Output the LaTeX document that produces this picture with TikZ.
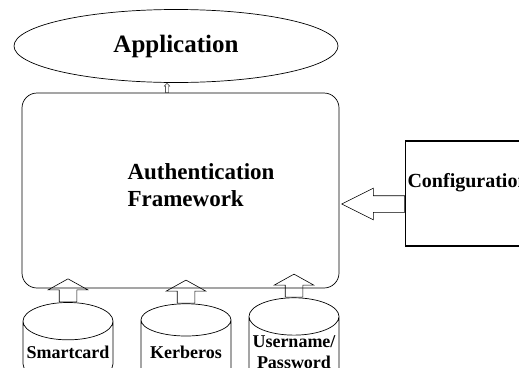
\documentclass[tikz,border=0pt]{standalone}
\usepackage{fontspec}
\setmainfont{Liberation Serif}
\usepackage{tikz}
\usetikzlibrary{positioning,shapes.geometric,shapes.arrows}

\begin{document}
\begin{tikzpicture}[
    x=1pt, y=-1pt,
    box/.style={draw, line width=0.7pt, font=\bfseries},
    store/.style={draw, cylinder, shape border rotate=90, aspect=0.45, line width=0.7pt,
        minimum width=90pt, minimum height=80pt, inner sep=0pt, align=center,
        font=\fontsize{18}{21}\selectfont\bfseries},
    blockarrow/.style={draw, single arrow, line width=0.6pt},
    uparrow/.style={blockarrow, shape border rotate=90, minimum height=23pt, inner sep=8.5pt,
        single arrow head extend=11pt, single arrow tip angle=122, anchor=tail}
]
    \useasboundingbox (0,0) rectangle (519,367);
    \clip (0,0) rectangle (519,367);

    % Application
    \node[box, ellipse, minimum width=324pt, minimum height=73pt,
          font=\fontsize{25}{28}\selectfont\bfseries] (app) at (176,46) {Application};

    % Framework
    \node[box, rounded corners=15pt, minimum width=317pt, minimum height=195pt] (main) at (180.5,190.5) {};
    \node[font=\fontsize{23}{27}\selectfont\bfseries, align=left] (mainlabel) at (201,185) {Authentication\\ Framework};

    % Configuration
    \node[box, line width=1.1pt, anchor=west, minimum height=105pt, inner xsep=2pt,
          text depth=26pt, font=\fontsize{20}{24}\selectfont\bfseries] (config) at (405,193.5) {Configuration};

    % Login modules
    \node[store] (smart) at (68,352) {Smartcard};
    \node[store] (kerb) at (186,352) {Kerberos};
    \node[store] (userpw) at (294,352) {Username/\\Password};

    % Arrows
    \node[blockarrow, shape border rotate=180, minimum height=63pt, inner sep=8pt,
          single arrow head extend=7.5pt, single arrow tip angle=53, anchor=tail] (cfgarrow) at (config.west |- 0,204) {};
    \node[uparrow] (smartarrow) at (smart.north) {};
    \node[uparrow] (kerbarrow) at (kerb.north) {};
    \node[uparrow] (userpwarrow) at (userpw.north) {};
    \node[blockarrow, shape border rotate=90, minimum height=9pt, inner sep=1.5pt,
          single arrow head extend=1pt, anchor=tail, line width=0.4pt] (apparrow) at (main.north -| 167,0) {};
\end{tikzpicture}
\end{document}
